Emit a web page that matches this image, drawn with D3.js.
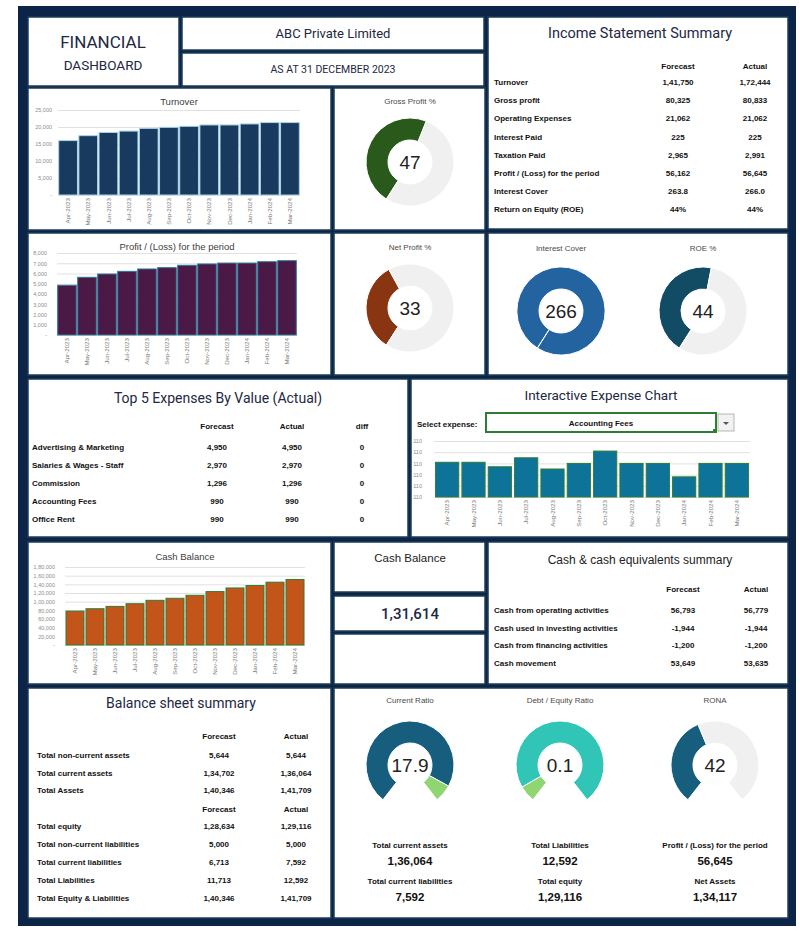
<!DOCTYPE html>
<html lang="en">
<head>
<meta charset="UTF-8">
<title>Financial Dashboard</title>
<script src="https://d3js.org/d3.v7.min.js"></script>
<style>
  body { margin: 0; background: #fff; }
  svg text { font-family: "Liberation Sans", Arial, sans-serif; }
  .ttl { font-family: Roboto, sans-serif; fill: #22283f; }
  .tbl { font-size: 8px; font-weight: bold; fill: #111; }
</style>
</head>
<body>
<svg id="dash" width="800" height="932"></svg>
<script>
// ---- data ----
const months = ["Apr-2023", "May-2023", "Jun-2023", "Jul-2023", "Aug-2023", "Sep-2023",
  "Oct-2023", "Nov-2023", "Dec-2023", "Jan-2024", "Feb-2024", "Mar-2024"];

const turnover = [16000, 17450, 18400, 18800, 19600, 19900, 20200, 20600, 20600, 20900, 21300, 21300];
const turnoverTicks = [0, 5000, 10000, 15000, 20000, 25000];

const profit = [4850, 5630, 5950, 6210, 6440, 6570, 6800, 6930, 7020, 7020, 7150, 7250];
const profitTicks = [0, 1000, 2000, 3000, 4000, 5000, 6000, 7000, 8000];

const cashBalance = [78300, 83700, 89100, 95300, 103100, 107800, 114700, 123300, 131614, 137200, 145000, 151200];
const cashTicks = [0, 20000, 40000, 60000, 80000, 100000, 120000, 140000, 160000, 180000];

const accountingFees = [83.1, 83.1, 82.7, 83.5, 82.5, 83.0, 84.1, 83.0, 83.0, 81.8, 83.0, 83.0];
const feeTicks = [80, 81, 82, 83, 84, 85];
const feeTickLabels = ["110", "110", "110", "110", "110", "110"];

const grossProfitPct = [47, 53];
const netProfitPct = [33, 67];
const interestCover = [266, 0];
const roePct = [44, 56];
const currentRatio = [17.9, 1.6];
const debtEquity = [0.1, 1.2];
const ronaPct = [42, 58];

const incomeLabels = ["Turnover", "Gross profit", "Operating Expenses", "Interest Paid", "Taxation Paid",
  "Profit / (Loss) for the period", "Interest Cover", "Return on Equity (ROE)"];
const incomeForecast = ["1,41,750", "80,325", "21,062", "225", "2,965", "56,162", "263.8", "44%"];
const incomeActual = ["1,72,444", "80,833", "21,062", "225", "2,991", "56,645", "266.0", "44%"];

const expenseLabels = ["Advertising & Marketing", "Salaries & Wages - Staff", "Commission", "Accounting Fees", "Office Rent"];
const expenseForecast = ["4,950", "2,970", "1,296", "990", "990"];
const expenseActual = ["4,950", "2,970", "1,296", "990", "990"];
const expenseDiff = ["0", "0", "0", "0", "0"];

const cashEqLabels = ["Cash from operating activities", "Cash used in investing activities",
  "Cash from financing activities", "Cash movement"];
const cashEqForecast = ["56,793", "-1,944", "-1,200", "53,649"];
const cashEqActual = ["56,779", "-1,944", "-1,200", "53,635"];

const assetLabels = ["Total non-current assets", "Total current assets", "Total Assets"];
const assetForecast = ["5,644", "1,34,702", "1,40,346"];
const assetActual = ["5,644", "1,36,064", "1,41,709"];
const liabLabels = ["Total equity", "Total non-current liabilities", "Total current liabilities",
  "Total Liabilities", "Total Equity & Liabilities"];
const liabForecast = ["1,28,634", "5,000", "6,713", "11,713", "1,40,346"];
const liabActual = ["1,29,116", "5,000", "7,592", "12,592", "1,41,709"];

const ratioDetails = [
  ["Total current assets", "1,36,064", "Total current liabilities", "7,592"],
  ["Total Liabilities", "12,592", "Total equity", "1,29,116"],
  ["Profit / (Loss) for the period", "56,645", "Net Assets", "1,34,117"]
];

// ---- layout ----
const svg = d3.select("#dash");

svg.append("rect").attr("x", 18).attr("y", 6).attr("width", 778).attr("height", 920).attr("fill", "#0b2447");

const panels = [
  [28, 17, 151, 69], [182, 17, 302, 33], [182, 53, 302, 33], [488, 17, 300, 212],
  [28, 88, 303, 142], [334, 88, 151, 142],
  [28, 233, 303, 142], [334, 233, 151, 142], [488, 233, 300, 142],
  [28, 379, 380, 158], [411, 379, 377, 158],
  [28, 542, 303, 142], [334, 542, 151, 50], [334, 596, 151, 35], [334, 634, 151, 50], [488, 542, 300, 142],
  [28, 688, 303, 230], [334, 688, 454, 230]
];
svg.selectAll("rect.panel").data(panels).enter().append("rect")
  .attr("class", "panel")
  .attr("x", d => d[0]).attr("y", d => d[1])
  .attr("width", d => d[2]).attr("height", d => d[3])
  .attr("fill", "#fff").attr("stroke", "#1d3d55").attr("stroke-width", 1.5);

function txt(x, y, s, size, opts = {}) {
  return svg.append("text").attr("x", x).attr("y", y)
    .attr("text-anchor", opts.anchor || "middle")
    .attr("font-size", size)
    .attr("font-weight", opts.weight || "normal")
    .attr("class", opts.cls || null)
    .attr("fill", opts.fill || "#222")
    .text(s);
}

// header
txt(103, 48, "FINANCIAL", 17, { cls: "ttl" });
txt(103, 70, "DASHBOARD", 13.5, { cls: "ttl" });
txt(333, 38, "ABC Private Limited", 13, { cls: "ttl" });
txt(333, 73, "AS AT 31 DECEMBER 2023", 10.5, { cls: "ttl" });

// ---- bar charts ----
function barChart(o) {
  const x = d3.scaleBand().domain(months).range([o.l, o.r]).paddingInner(o.pad).paddingOuter(o.pad / 2);
  const y = d3.scaleLinear().domain(o.domain).range([o.b, o.t]);

  svg.append("g")
    .attr("transform", `translate(${o.l},0)`)
    .call(d3.axisLeft(y).tickValues(o.ticks).tickSize(-(o.r - o.l)).tickFormat(o.fmt))
    .call(g => g.select(".domain").remove())
    .call(g => g.selectAll("line").attr("stroke", "#d9d9d9").attr("stroke-width", 0.8))
    .call(g => g.selectAll("text").attr("fill", "#8c8c8c").attr("font-size", 5.5).attr("x", -o.labelGap));

  svg.append("g").selectAll("rect")
    .data(o.values)
    .enter()
    .append("rect")
    .attr("x", (d, i) => x(months[i]))
    .attr("y", d => y(d))
    .attr("width", x.bandwidth())
    .attr("height", d => o.b - y(d))
    .attr("fill", o.fill)
    .attr("stroke", o.stroke)
    .attr("stroke-width", 1);

  svg.append("g")
    .attr("transform", `translate(0,${o.b})`)
    .call(d3.axisBottom(x).tickSize(0))
    .call(g => g.select(".domain").remove())
    .call(g => g.selectAll("text")
      .attr("transform", "rotate(-90)")
      .attr("text-anchor", "end")
      .attr("x", -3).attr("y", 0).attr("dy", "0.35em")
      .attr("font-size", 6.2).attr("fill", "#7a7a7a"));

  if (o.title) txt((o.l + o.r) / 2, o.titleY, o.title, 9.5, { fill: "#404040" });
}

function fmtIN(n) {
  if (n === 0) return "-";
  const s = String(Math.round(n));
  if (s.length <= 3) return s;
  const last = s.slice(-3);
  const rest = s.slice(0, -3).replace(/\B(?=(\d{2})+(?!\d))/g, ",");
  return rest + "," + last;
}

barChart({
  title: "Turnover", titleY: 105, values: turnover, ticks: turnoverTicks, domain: [0, 25000],
  l: 58, r: 300, t: 110, b: 195, pad: 0.07, labelGap: 6,
  fmt: d => fmtIN(d), fill: "#173a5e", stroke: "#a9d3e8"
});

barChart({
  title: "Profit / (Loss) for the period", titleY: 250, values: profit, ticks: profitTicks, domain: [0, 8000],
  l: 57, r: 297, t: 253, b: 335, pad: 0.07, labelGap: 10,
  fmt: d => fmtIN(d), fill: "#4b1946", stroke: "#2e7795"
});

barChart({
  title: "Cash Balance", titleY: 560, values: cashBalance, ticks: cashTicks, domain: [0, 180000],
  l: 65, r: 305, t: 567, b: 645, pad: 0.1, labelGap: 10,
  fmt: d => fmtIN(d), fill: "#c4551a", stroke: "#2f7d32"
});

barChart({
  values: accountingFees, ticks: feeTicks, domain: [80, 85],
  l: 434, r: 750, t: 441, b: 497, pad: 0.12, labelGap: 12,
  fmt: (d, i) => feeTickLabels[i], fill: "#0d7399", stroke: "#2e7d32"
});

// ---- donuts and gauges ----
function donut(cx, cy, vals, colors, a0, a1, label, title, titleY) {
  const pie = d3.pie().sort(null).startAngle(a0).endAngle(a1);
  const arc = d3.arc().innerRadius(22).outerRadius(44);
  const g = svg.append("g").attr("transform", `translate(${cx},${cy})`);
  g.selectAll("path")
    .data(pie(vals))
    .enter()
    .append("path")
    .attr("d", arc)
    .attr("fill", (d, i) => colors[i])
    .attr("stroke", "#fff")
    .attr("stroke-width", 1);
  g.append("text").attr("text-anchor", "middle").attr("dy", "0.36em")
    .attr("font-size", 19).attr("fill", "#222").text(label);
  txt(cx, titleY, title, 8, { fill: "#4a4a4a" });
}

const deg = Math.PI / 180;
const full0 = 212.5 * deg;
donut(410, 162, grossProfitPct, ["#2a5a1b", "#f0f0f0"], full0, full0 + 2 * Math.PI, "47", "Gross Profit %", 104);
donut(410, 308, netProfitPct, ["#8a3511", "#f0f0f0"], full0, full0 + 2 * Math.PI, "33", "Net Profit %", 250);
donut(561, 311, interestCover, ["#2263a0", "#2263a0"], full0, full0 + 2 * Math.PI, "266", "Interest Cover", 251);
donut(703, 311, roePct, ["#124b64", "#f0f0f0"], full0, full0 + 2 * Math.PI, "44", "ROE %", 251);

const g0 = -142 * deg, g1 = 142 * deg;
donut(410, 765, currentRatio, ["#175e7e", "#8fd672"], g0, g1, "17.9", "Current Ratio", 703);
donut(560, 765, debtEquity, ["#8fd672", "#30c5b6"], g0, g1, "0.1", "Debt / Equity Ratio", 703);
donut(715, 765, ronaPct, ["#175e7e", "#f0f0f0"], g0, g1, "42", "RONA", 703);

const detailX = [410, 560, 715];
ratioDetails.forEach((r, i) => {
  txt(detailX[i], 848, r[0], 8, { weight: "bold", fill: "#111" });
  txt(detailX[i], 865, r[1], 11.5, { weight: "bold", fill: "#111" });
  txt(detailX[i], 884, r[2], 8, { weight: "bold", fill: "#111" });
  txt(detailX[i], 901, r[3], 11.5, { weight: "bold", fill: "#111" });
});

// ---- tables ----
function table(o) {
  o.labels.forEach((lab, i) => {
    const y = o.y0 + i * o.step;
    txt(o.lx, y, lab, 8, { anchor: "start", cls: "tbl" });
    o.cols.forEach((c, j) => txt(c, y, o.values[j][i], 8, { cls: "tbl" }));
  });
}
function headers(cols, names, y) {
  cols.forEach((c, j) => txt(c, y, names[j], 8.5, { cls: "tbl", weight: "bold" }));
}

// income statement
txt(640, 38, "Income Statement Summary", 14.5, { cls: "ttl" });
headers([678, 755], ["Forecast", "Actual"], 69);
table({ labels: incomeLabels, values: [incomeForecast, incomeActual], cols: [678, 755], lx: 494, y0: 85, step: 18.2 });

// top 5 expenses
txt(218, 403, "Top 5 Expenses By Value (Actual)", 14, { cls: "ttl" });
headers([217, 292, 362], ["Forecast", "Actual", "diff"], 429);
table({ labels: expenseLabels, values: [expenseForecast, expenseActual, expenseDiff], cols: [217, 292, 362], lx: 32, y0: 450, step: 18 });

// interactive expense chart
txt(601, 400, "Interactive Expense Chart", 13.5, { cls: "ttl" });
txt(417, 427, "Select expense:", 7, { anchor: "start", cls: "tbl" });
svg.append("rect").attr("x", 486).attr("y", 413).attr("width", 230).attr("height", 19)
  .attr("fill", "#fff").attr("stroke", "#2e7d32").attr("stroke-width", 2);
svg.append("rect").attr("x", 713).attr("y", 429).attr("width", 4).attr("height", 4).attr("fill", "#2e7d32");
svg.append("rect").attr("x", 718).attr("y", 414).attr("width", 16).attr("height", 17)
  .attr("fill", "#f2f2f2").attr("stroke", "#a6a6a6").attr("stroke-width", 0.8);
svg.append("path").attr("d", "M723,422 L729,422 L726,425 Z").attr("fill", "#555");
txt(601, 426, "Accounting Fees", 7.5, { cls: "tbl" });

// cash balance tile
txt(410, 562, "Cash Balance", 11.5, { fill: "#222" });
txt(410, 619, "1,31,614", 15, { cls: "ttl", weight: 500, fill: "#333" });

// cash & cash equivalents
txt(640, 564, "Cash & cash equivalents summary", 12, { fill: "#222" });
headers([683, 756], ["Forecast", "Actual"], 592);
table({ labels: cashEqLabels, values: [cashEqForecast, cashEqActual], cols: [683, 756], lx: 494, y0: 613, step: 17.7 });

// balance sheet
txt(181, 708, "Balance sheet summary", 14, { cls: "ttl" });
headers([219, 296], ["Forecast", "Actual"], 739);
table({ labels: assetLabels, values: [assetForecast, assetActual], cols: [219, 296], lx: 37, y0: 758, step: 17.7 });
headers([219, 296], ["Forecast", "Actual"], 812);
table({ labels: liabLabels, values: [liabForecast, liabActual], cols: [219, 296], lx: 37, y0: 829, step: 18 });
</script>
</body>
</html>
